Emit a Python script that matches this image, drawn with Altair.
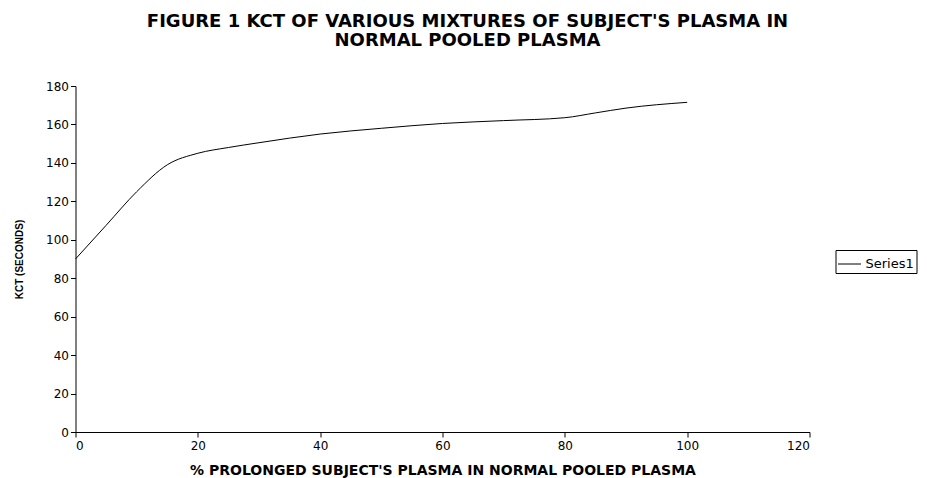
import altair as alt
import pandas as pd

pct = [0, 5, 10, 15, 20, 25, 30, 40, 50, 60, 70, 80, 85, 90, 100]
kct = [90, 107.5, 125, 139, 145, 148, 150.5, 155, 158, 160.5, 162, 163.5, 166, 168.5, 171.5]
series = ["Series1"] * len(pct)

df = pd.DataFrame({"pct": pct, "kct": kct, "series": series})

FONT = "DejaVu Sans"

chart = alt.Chart(df).mark_line(interpolate="monotone", strokeWidth=1).encode(
    x=alt.X("pct:Q",
            scale=alt.Scale(domain=[0, 120], nice=False),
            axis=alt.Axis(values=[0, 20, 40, 60, 80, 100, 120],
                          title="% PROLONGED SUBJECT'S PLASMA IN NORMAL POOLED PLASMA",
                          labelPadding=3, titlePadding=12)),
    y=alt.Y("kct:Q",
            scale=alt.Scale(domain=[0, 180], nice=False),
            axis=alt.Axis(values=[0, 20, 40, 60, 80, 100, 120, 140, 160, 180],
                          title="KCT (SECONDS)",
                          titleFont="Liberation Sans", titleFontSize=10,
                          titlePadding=21)),
    color=alt.Color("series:N",
                    scale=alt.Scale(range=["black"]),
                    legend=alt.Legend(title=None, orient="none",
                                      legendX=760, legendY=164,
                                      symbolType="stroke", symbolSize=529,
                                      symbolStrokeWidth=1,
                                      strokeColor="black", padding=2,
                                      labelFont=FONT, labelFontSize=13,
                                      labelColor="black"))
).properties(
    width=734,
    height=346,
    autosize=alt.AutoSizeParams(type="none"),
    padding={"left": 67.5, "top": 78, "right": 109, "bottom": 46},
    title=alt.TitleParams(
        text=["FIGURE 1 KCT OF VARIOUS MIXTURES OF SUBJECT'S PLASMA IN",
              "NORMAL POOLED PLASMA"],
        font=FONT, fontSize=18, fontWeight="bold", color="black",
        anchor="middle", dx=25, offset=30, lineHeight=19)
).configure_view(
    stroke=None
).configure_axis(
    domainColor="black", tickColor="black", tickSize=5, grid=False,
    labelFont=FONT, labelFontSize=12, labelColor="black",
    titleFont=FONT, titleFontSize=14, titleFontWeight="bold", titleColor="black"
)

chart.save("out.html", embed_options={"renderer": "svg", "actions": False})
